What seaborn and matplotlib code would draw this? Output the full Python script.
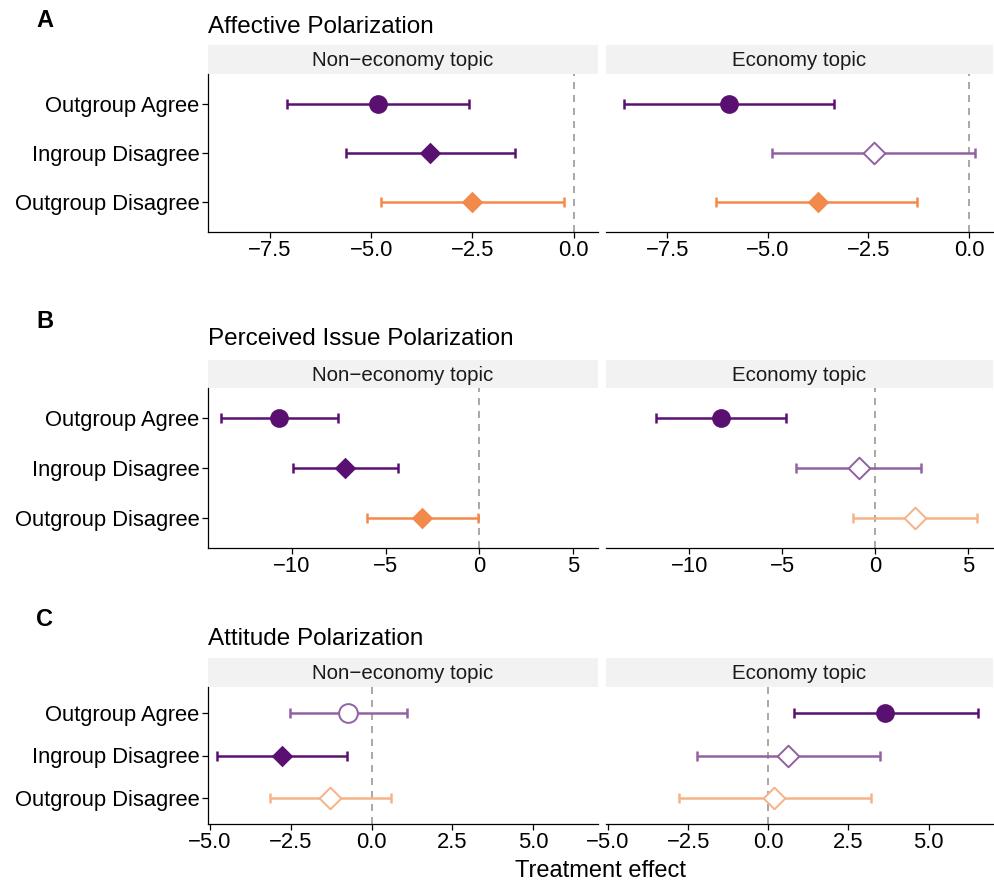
import numpy as np
import pandas as pd
import matplotlib
matplotlib.use("Agg")
import matplotlib.pyplot as plt
import matplotlib.colors as mcolors
from matplotlib.ticker import MultipleLocator
import seaborn as sns

# categories on the y axis, top to bottom
categories = ["Outgroup Agree", "Ingroup Disagree", "Outgroup Disagree"]
topics = ["Non\u2212economy topic", "Economy topic"]

# A: affective polarization
aff_non_est = [-4.84, -3.54, -2.51]
aff_non_lo = [-7.08, -5.63, -4.77]
aff_non_hi = [-2.58, -1.45, -0.25]
aff_non_sig = [True, True, True]
aff_eco_est = [-5.97, -2.37, -3.76]
aff_eco_lo = [-8.59, -4.91, -6.28]
aff_eco_hi = [-3.35, 0.16, -1.29]
aff_eco_sig = [True, False, True]

# B: perceived issue polarization
iss_non_est = [-10.66, -7.15, -3.05]
iss_non_lo = [-13.78, -9.96, -6.01]
iss_non_hi = [-7.53, -4.35, -0.07]
iss_non_sig = [True, True, True]
iss_eco_est = [-8.30, -0.89, 2.12]
iss_eco_lo = [-11.78, -4.26, -1.21]
iss_eco_hi = [-4.80, 2.46, 5.47]
iss_eco_sig = [True, False, False]

# C: attitude polarization
att_non_est = [-0.72, -2.78, -1.28]
att_non_lo = [-2.52, -4.77, -3.14]
att_non_hi = [1.09, -0.77, 0.61]
att_non_sig = [False, True, False]
att_eco_est = [3.65, 0.61, 0.19]
att_eco_lo = [0.79, -2.23, -2.80]
att_eco_hi = [6.54, 3.48, 3.19]
att_eco_sig = [True, False, False]

panels = [
    ("A", "Affective Polarization", 2.5,
     [(aff_non_est, aff_non_lo, aff_non_hi, aff_non_sig),
      (aff_eco_est, aff_eco_lo, aff_eco_hi, aff_eco_sig)]),
    ("B", "Perceived Issue Polarization", 5,
     [(iss_non_est, iss_non_lo, iss_non_hi, iss_non_sig),
      (iss_eco_est, iss_eco_lo, iss_eco_hi, iss_eco_sig)]),
    ("C", "Attitude Polarization", 2.5,
     [(att_non_est, att_non_lo, att_non_hi, att_non_sig),
      (att_eco_est, att_eco_lo, att_eco_hi, att_eco_sig)]),
]

purple = "#5A1070"
orange = "#F28A4B"
cat_colors = [purple, purple, orange]
cat_markers = ["o", "D", "D"]
cat_sizes = [13.5, 11, 11]


def lighten(c, a=0.66):
    r, g, b = mcolors.to_rgb(c)
    return (1 - a + a * r, 1 - a + a * g, 1 - a + a * b)


sns.set_theme(style="ticks")
plt.rcParams["font.family"] = ["Liberation Sans", "DejaVu Sans"]
plt.rcParams["axes.unicode_minus"] = True
plt.rcParams["text.color"] = "black"

W, H = 994, 884
fig = plt.figure(figsize=(W / 100, H / 100), dpi=100)


def box(left, top, right, bottom):
    return fig.add_axes([left / W, 1 - bottom / H, (right - left) / W, (bottom - top) / H])


# layout in pixels: (letter baseline, title baseline, strip top, plot top, plot bottom)
layout = [
    (27, 33, 45, 74, 232),
    (328, 345, 360, 388, 548),
    (626, 645, 658, 687, 824),
]
facet_x = [(208, 598), (606, 993)]

for (letter, title, step, facets), (ly, ty, st, pt, pb) in zip(panels, layout):
    fig.text(36 / W, 1 - ly / H, letter, fontsize=17, fontweight="bold", va="baseline",
             color="black")
    fig.text(208 / W, 1 - ty / H, title, fontsize=17.5, va="baseline", color="black")
    axes = []
    for j, ((est, lo, hi, sig), (xl, xr)) in enumerate(zip(facets, facet_x)):
        # strip
        sax = box(xl, st, xr, pt)
        sax.set_facecolor("#F2F2F2")
        sax.set_xticks([])
        sax.set_yticks([])
        for s in sax.spines.values():
            s.set_visible(False)
        sax.text(0.5, 0.45, topics[j], ha="center", va="center", fontsize=14.8,
                 color="#1A1A1A", transform=sax.transAxes)

        ax = box(xl, pt, xr, pb)
        axes.append(ax)
        df = pd.DataFrame({"cat": categories, "est": est, "lo": lo, "hi": hi, "sig": sig})
        df["y"] = np.arange(len(df))
        ax.axvline(0, color="#999999", lw=1.2, ls=(0, (4.2, 3.6)), zorder=1)
        for i, r in df.iterrows():
            col = cat_colors[i] if r.sig else lighten(cat_colors[i])
            ax.errorbar(r.est, r.y, xerr=[[r.est - r.lo], [r.hi - r.est]], fmt="none",
                        ecolor=col, elinewidth=1.8, capsize=3.3, capthick=1.8, zorder=2)
            sns.scatterplot(x=[r.est], y=[r.y], marker=cat_markers[i],
                            s=cat_sizes[i] ** 2, color=col, edgecolor=col,
                            facecolor=col if r.sig else "white",
                            linewidth=0 if r.sig else 1.4, ax=ax, zorder=3, legend=False)
        ax.set_ylim(2.6, -0.6)
        ax.set_yticks(range(len(categories)))
        ax.set_xlabel("")
        ax.set_ylabel("")
        ax.tick_params(axis="both", length=4, width=0.9, color="black",
                       labelsize=15.8, labelcolor="black", pad=2)
        for s in ["top", "right"]:
            ax.spines[s].set_visible(False)
        ax.spines["bottom"].set_linewidth(0.9)
        ax.spines["bottom"].set_color("black")
        if j == 0:
            ax.set_yticklabels(categories)
            ax.spines["left"].set_linewidth(0.9)
            ax.spines["left"].set_color("black")
        else:
            ax.spines["left"].set_visible(False)
            ax.tick_params(axis="y", left=False, labelleft=False)
    # shared x scale within the panel
    lims = [a.get_xlim() for a in axes]
    lo_ = min(l[0] for l in lims)
    hi_ = max(l[1] for l in lims)
    for a in axes:
        a.set_xlim(lo_, hi_)
        a.xaxis.set_major_locator(MultipleLocator(step))
    if step == 2.5:
        for a in axes:
            a.xaxis.set_major_formatter(plt.FuncFormatter(lambda v, p: f"{v:.1f}".replace("-", "\u2212")))

fig.text(600.5 / W, 1 - 877 / H, "Treatment effect", ha="center", va="baseline", fontsize=17,
         color="black")

fig.savefig("out.png", dpi=100)
